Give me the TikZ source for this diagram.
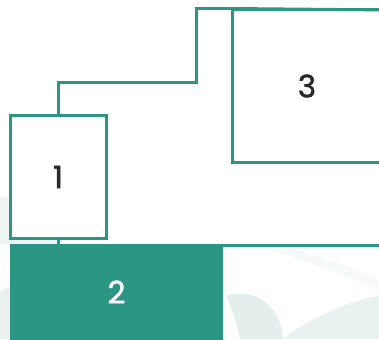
\documentclass[tikz,border=0pt]{standalone}
\usepackage{fontspec}
\setmainfont{Poppins}
\newfontfamily\digitfont{Poppins}[FakeBold=1.4]
\usetikzlibrary{positioning}
\definecolor{tealline}{RGB}{44,150,133}
\definecolor{digitgray}{RGB}{40,40,40}
\definecolor{mist}{RGB}{228,239,237}
\tikzset{
  frame/.style={draw=tealline, line width=3pt, fill=white, inner sep=0pt,
                font=\digitfont\fontsize{31}{32}\selectfont, text=digitgray},
  solid box/.style={fill=tealline, inner sep=0pt,
                    font=\digitfont\fontsize{31}{32}\selectfont, text=white},
  link/.style={draw=tealline, line width=3pt},
  haze/.style={fill=mist, draw=none},
}
\begin{document}
\begin{tikzpicture}[x=1pt,y=-1pt]
  \useasboundingbox (0,0) rectangle (379,339);
  \clip (0,0) rectangle (379,339);

  % faint background shapes
  \fill[haze, opacity=0.6] (0,196) .. controls (35,200) and (55,220) .. (62,244)
    -- (0,244) -- cycle;
  \fill[haze, opacity=0.8] (0,292) .. controls (4,289) and (8,287) .. (10,286)
    -- (10,339) -- (0,339) -- cycle;
  \fill[haze] (226,296) .. controls (250,288) and (280,300) .. (283,339)
    -- (240,339) .. controls (236,320) and (231,306) .. (226,296) -- cycle;
  \fill[haze, opacity=0.8] (283,339) .. controls (310,318) and (345,302) .. (379,296)
    -- (379,339) -- cycle;
  \fill[haze, opacity=0.35] (270,250) .. controls (310,262) and (350,276) .. (379,290)
    -- (379,280) .. controls (350,266) and (310,254) .. (290,248) -- cycle;

  % boxes
  \node[frame, minimum width=96pt, minimum height=122pt] (one) at (58,177) {1};
  \node[solid box, minimum width=213pt, minimum height=96pt] (two) at (116.5,292) {2};
  \node[frame, minimum width=150pt, minimum height=152pt] (three) at (307,86) {3};

  % connectors
  \coordinate (bend) at (196,83);
  \coordinate (rim) at (390,245);
  \coordinate (rimtop) at (390,10);
  \draw[link] (one.north) |- (bend) |- (three.north west);
  \draw[link] (three.north west) -- (rimtop);
  \draw[link] (one.south) -- (one.south |- two.north);
  \draw[link] (two.north east |- rim) -- (rim);
\end{tikzpicture}
\end{document}
